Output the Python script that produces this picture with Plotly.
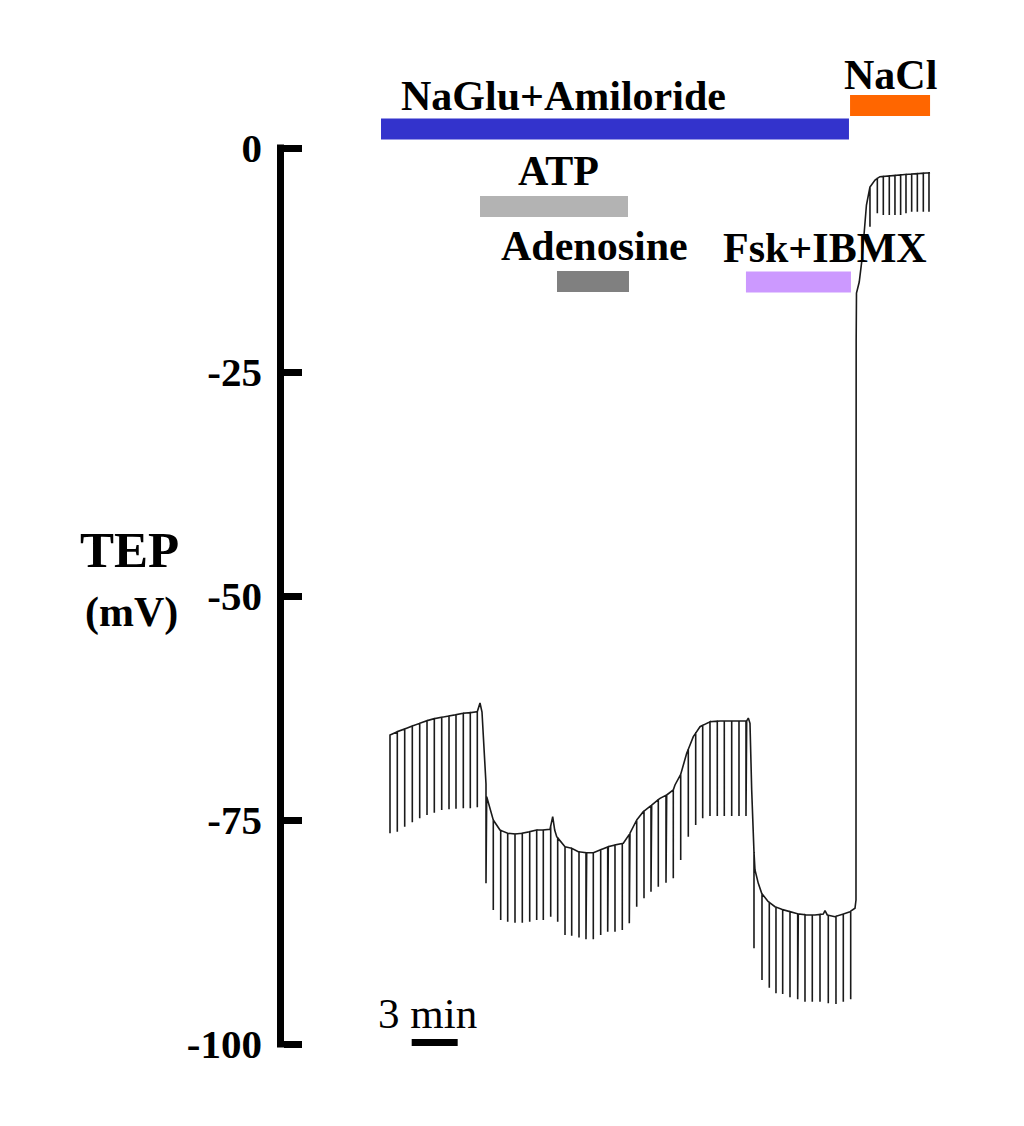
import numpy as np
import plotly.graph_objects as go

# ---------------- data (time in min, TEP in mV) ----------------
base_t = [0, 0.476, 0.959, 1.455, 1.937, 2.414, 2.890, 3.373, 3.849, 4.305, 4.782, 5.238, 5.695,
          5.871, 6.001, 6.308, 6.738, 7.175, 7.678, 8.154, 8.630, 9.113, 9.569, 10.0, 10.437,
          10.613, 10.744, 10.874, 11.416, 11.853, 12.283, 12.831, 13.262, 13.699, 14.240, 14.677,
          15.219, 15.440, 15.656, 16.093, 16.523, 17.071, 17.613, 18.050, 18.480, 18.591, 18.917,
          19.354, 19.785, 20.222, 20.874, 21.526, 22.394, 23.268, 23.373, 23.483, 23.594, 23.699,
          23.810, 24.025, 24.247, 24.677, 25.114, 25.551, 26.093, 26.634, 27.182, 27.723, 28.265,
          28.376, 28.526, 29.028, 29.570, 30.007, 30.333, 30.398, 30.41, 30.43, 30.61, 30.77,
          30.92, 31.08, 31.31, 31.64, 31.96, 33.59, 35.23]
base_v = [-65.51, -65.14, -64.84, -64.51, -64.21, -63.92, -63.69, -63.54, -63.39, -63.25, -63.09,
          -63.02, -62.91, -61.94, -62.95, -72.40, -75.0, -76.12, -76.48, -76.56, -76.48, -76.31,
          -76.12, -76.12, -76.04, -74.63, -76.12, -76.86, -77.98, -78.16, -78.54, -78.65, -78.65,
          -78.35, -77.98, -77.79, -77.60, -77.04, -76.48, -75.0, -74.07, -73.33, -72.58, -72.21,
          -71.65, -71.09, -70.17, -67.56, -65.70, -64.59, -64.03, -63.95, -63.95, -63.95, -63.62,
          -64.21, -71.65, -77.23, -80.58, -82.07, -83.18, -84.12, -84.68, -84.97, -85.23, -85.49,
          -85.60, -85.60, -85.49, -85.12, -85.60, -85.79, -85.49, -85.23, -84.85, -83.93, -21.43,
          -16.18, -14.96, -12.72, -9.71, -6.36, -4.35, -3.57, -3.20, -2.96, -2.76]

# test-pulse deflections: time and bottom of each downward pulse
pulse_t = [0, 0.476, 0.959, 1.455, 1.937, 2.414, 2.890, 3.373, 3.849, 4.305, 4.782, 5.238, 5.695,
           6.262, 6.738, 7.221, 7.678, 8.154, 8.630, 9.113, 9.569, 10.0, 10.483, 10.939, 11.416,
           11.853, 12.329, 12.785, 13.262, 13.744, 14.201, 14.677, 15.153, 15.610, 16.093, 16.569,
           17.025, 17.502, 18.004, 18.480, 18.963, 19.459, 19.941, 20.398, 20.874, 21.350, 21.807,
           22.290, 22.766, 23.222,
           23.744, 24.266, 24.742, 25.179, 25.616, 26.093, 26.595, 27.071, 27.547, 28.050, 28.591,
           29.093, 29.570, 30.052,
           31.31, 31.79, 32.18, 32.57, 32.94, 33.31, 33.66, 34.03, 34.40, 34.79, 35.16]
pulse_v = [-76.48, -76.31, -75.75, -75.26, -74.81, -74.44, -74.18, -73.88, -73.81, -73.74, -73.69,
           -73.69, -73.58,
           -82.07, -85.04, -86.16, -86.35, -86.46, -86.46, -86.35, -86.16, -86.16, -85.79, -86.35,
           -87.83, -87.92, -88.11, -88.31, -88.31, -87.83, -87.47, -87.47, -87.28, -86.53, -84.68,
           -83.74, -83.00, -82.44, -82.00, -81.51, -79.46, -76.86, -75.56, -74.81, -74.55, -74.55,
           -74.55, -74.55, -74.55, -74.55,
           -89.32, -92.86, -93.72, -94.34, -94.42, -94.79, -95.01, -95.28, -95.28, -95.28, -95.46,
           -95.54, -95.28, -95.01,
           -8.78, -7.29, -7.48, -7.48, -7.48, -7.48, -7.29, -7.11, -7.11, -7.11, -7.11]

# treatment periods (min)
treat_names = ["NaGlu+Amiloride", "NaCl", "ATP", "Adenosine", "Fsk+IBMX"]
treat_start = [-0.587, 30.01, 5.871, 10.894, 23.22]
treat_end = [29.94, 35.23, 15.525, 15.59, 30.07]
treat_colors = ["#3333CC", "#FF6600", "#B3B3B3", "#808080", "#CC99FF"]

y_ticks = [0, -25, -50, -75, -100]
scale_bar_min = 3

assert len(base_t) == len(base_v)
assert len(pulse_t) == len(pulse_v)

# ---------------- layout constants ----------------
# page has an 8 px body margin, so the figure is sized/offset to compensate
W, H = 1008, 1110
ML, MT = 276, 32
PLOT_W, PLOT_H = 706, 1020
MR = W - ML - PLOT_W
MB = H - MT - PLOT_H
X_RANGE = [-6.915, 39.14]
Y_RANGE = [-101.786, 12.054]
PX_PER_MV = PLOT_H / (Y_RANGE[1] - Y_RANGE[0])
FONT = "Liberation Serif, Times New Roman, serif"

# bar placement: (y centre in mV), half thickness in mV
bar_y = [2.12, 4.74, -6.53, -14.90, -14.96]
bar_half = 10.5 / PX_PER_MV
# label placement (min, mV)
label_pos = [(11.35, 5.80), (32.68, 8.15), (10.96, -2.57), (13.37, -10.94), (28.38, -11.16)]

# ---------------- build the trace ----------------
bt = np.array(base_t)
bv = np.array(base_v)
events = sorted([(t, 0, v) for t, v in zip(base_t, base_v)] +
                [(t, 1, v) for t, v in zip(pulse_t, pulse_v)])
xs, ys = [], []
for t, kind, v in events:
    if kind == 0:
        xs.append(t)
        ys.append(v)
    else:
        b = float(np.interp(t, bt, bv))
        xs += [t, t, t]
        ys += [b, v, b]

fig = go.Figure()
fig.add_trace(go.Scatter(x=xs, y=ys, mode="lines",
                         line=dict(color="#1a1a1a", width=1.6),
                         hoverinfo="skip", showlegend=False))

shapes = []
for s, e, c, yc in zip(treat_start, treat_end, treat_colors, bar_y):
    shapes.append(dict(type="rect", xref="x", yref="y", x0=s, x1=e,
                       y0=yc - bar_half, y1=yc + bar_half,
                       fillcolor=c, line=dict(width=0), layer="above"))

# y axis spine
ext = 3.5 / PX_PER_MV
shapes.append(dict(type="line", xref="paper", yref="y",
                   x0=-3.5 / PLOT_W, x1=-3.5 / PLOT_W,
                   y0=y_ticks[-1] - ext, y1=y_ticks[0] + ext,
                   line=dict(color="black", width=7)))

# scale bar
sb_x0 = 1.415
sb_y = -99.83
shapes.append(dict(type="line", xref="x", yref="y", x0=sb_x0, x1=sb_x0 + scale_bar_min,
                   y0=sb_y, y1=sb_y, line=dict(color="black", width=7)))

annotations = []
for name, (lx, ly) in zip(treat_names, label_pos):
    annotations.append(dict(x=lx, y=ly, xref="x", yref="y", text=name, showarrow=False,
                            xanchor="center", yanchor="middle",
                            font=dict(family=FONT, size=42, color="black", weight="bold")))

annotations.append(dict(x=2.45, y=-96.54, xref="x", yref="y",
                        text=f"{scale_bar_min} min", showarrow=False,
                        xanchor="center", yanchor="middle",
                        font=dict(family=FONT, size=43, color="black")))


def px_to_paper_x(px):
    return (px - 8 - ML) / PLOT_W


def px_to_paper_y(py):
    return (MT + PLOT_H - (py - 8)) / PLOT_H


annotations.append(dict(x=px_to_paper_x(129), y=px_to_paper_y(550), xref="paper", yref="paper",
                        text="TEP", showarrow=False, xanchor="center", yanchor="middle",
                        font=dict(family=FONT, size=51, color="black", weight="bold")))
annotations.append(dict(x=px_to_paper_x(131), y=px_to_paper_y(612), xref="paper", yref="paper",
                        text="(mV)", showarrow=False, xanchor="center", yanchor="middle",
                        font=dict(family=FONT, size=42, color="black", weight="bold")))

fig.update_layout(
    width=W, height=H,
    margin=dict(l=ML, r=MR, t=MT, b=MB, pad=0),
    paper_bgcolor="white", plot_bgcolor="white",
    showlegend=False,
    shapes=shapes,
    annotations=annotations,
    xaxis=dict(range=X_RANGE, visible=False, fixedrange=True),
    yaxis=dict(range=Y_RANGE, showgrid=False, zeroline=False, showline=False,
               tickvals=y_ticks, ticktext=[str(v) for v in y_ticks],
               ticks="inside", ticklen=18, tickwidth=7, tickcolor="black",
               ticklabelstandoff=21,
               tickfont=dict(family=FONT, size=41, color="black", weight="bold"),
               fixedrange=True),
)

fig.write_html("out.html")
